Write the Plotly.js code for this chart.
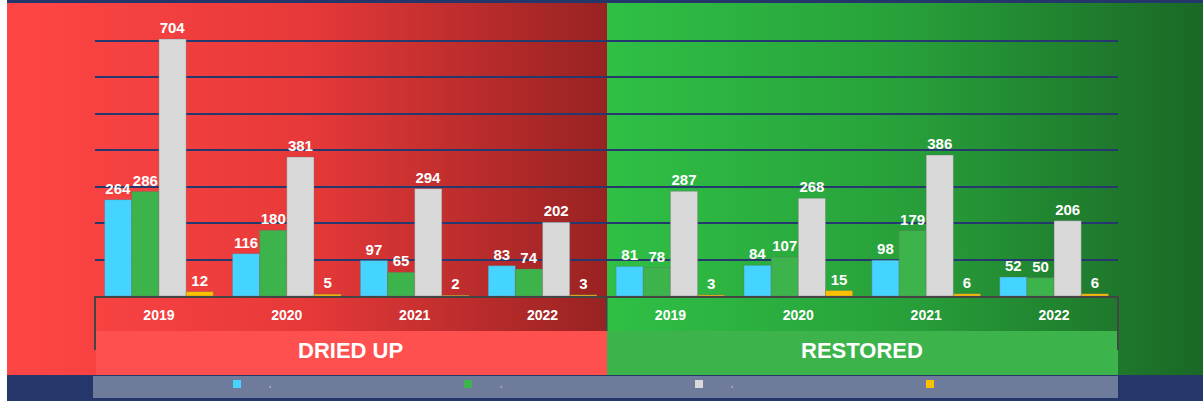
<!DOCTYPE html>
<html>
<head>
<meta charset="utf-8">
<script src="https://cdn.plot.ly/plotly-3.0.1.min.js"></script>
<style>
  html, body { margin: 0; padding: 0; background: #ffffff; }
  #chart { width: 1203px; height: 401px; }
</style>
</head>
<body>
<div id="chart"></div>
<script>
// ---- data ----
const groups = ["DRIED UP", "RESTORED"];
const years = ["2019", "2020", "2021", "2022"];
const seriesNames = ["\u2003\u2002,", "\u2003\u2002,", "\u2003\u2002,", ""];
const seriesColors = ["#44d4ff", "#3cb44b", "#d9d9d9", "#ffc000"];
const cyanValues   = [264, 116, 97, 83, 81, 84, 98, 52];
const greenValues  = [286, 180, 65, 74, 78, 107, 179, 50];
const grayValues   = [704, 381, 294, 202, 287, 268, 386, 206];
const yellowValues = [12, 5, 2, 3, 3, 15, 6, 6];

// ---- category keys (group + year), tick text = year ----
const xKeys = [], xTicks = [];
groups.forEach(g => years.forEach(y => { xKeys.push(g + " " + y); xTicks.push(y); }));
const allSeries = [cyanValues, greenValues, grayValues, yellowValues];

const FONT = "Arial, 'Liberation Sans', sans-serif";
const traces = [];
allSeries.forEach((vals, i) => {
  traces.push({
    type: "bar",
    x: xKeys,
    y: vals,
    name: seriesNames[i],
    showlegend: false,
    marker: { color: seriesColors[i], line: { width: 1, color: "rgba(110,110,110,0.35)" } },
    text: vals.map(String),
    textposition: "outside",
    constraintext: "none",
    cliponaxis: false,
    textfont: { family: FONT, size: 15, color: "#ffffff", weight: "bold" },
    hoverinfo: "skip"
  });
});
// legend proxies (small square markers, no drawn point)
seriesColors.forEach((c, i) => {
  traces.push({
    type: "scatter", mode: "markers",
    x: [xKeys[0]], y: [null],
    name: seriesNames[i],
    marker: { symbol: "square", size: 8, color: c },
    showlegend: true, hoverinfo: "skip"
  });
});

// ---- pixel -> paper helpers (plot area: x 95..1118, y 4..296) ----
const W = 1203, H = 401;
const L = 95, R = 1118, T = 4, B = 296;
const px = v => (v - L) / (R - L);
const py = v => (B - v) / (B - T);

function gradImg(stops) {
  const s = stops.map(([o, c]) => `<stop offset="${o}" stop-color="${c}"/>`).join("");
  const svg = `<svg xmlns="http://www.w3.org/2000/svg" width="100" height="100" viewBox="0 0 100 100" preserveAspectRatio="none"><defs><linearGradient id="g" x1="0" x2="1" y1="0" y2="0">${s}</linearGradient></defs><rect width="100" height="100" fill="url(#g)"/></svg>`;
  return "data:image/svg+xml;charset=utf-8," + encodeURIComponent(svg);
}

const lineStyle = { color: "#444444", width: 2 };

const layout = {
  width: W, height: H,
  margin: { l: L, r: W - R, t: T, b: H - B },
  paper_bgcolor: "#25366a",
  plot_bgcolor: "rgba(0,0,0,0)",
  font: { family: FONT, color: "#ffffff" },
  barmode: "group",
  bargap: 0.15,
  bargroupgap: 0,
  showlegend: true,
  legend: {
    orientation: "h",
    xref: "paper", x: px(217), xanchor: "left",
    yref: "container", y: (H - 384) / H, yanchor: "middle",
    bgcolor: "rgba(0,0,0,0)",
    font: { family: FONT, size: 8, color: "#ffffff" },
    entrywidth: 186, entrywidthmode: "pixels",
    itemclick: false, itemdoubleclick: false
  },
  xaxis: {
    type: "category",
    categoryorder: "array", categoryarray: xKeys,
    tickmode: "array", tickvals: xKeys, ticktext: xTicks,
    showline: true, linecolor: "#444444", linewidth: 2,
    ticks: "", ticklabelstandoff: 5,
    tickfont: { family: FONT, size: 14, color: "#ffffff", weight: "bold" },
    showgrid: false, zeroline: false, fixedrange: true
  },
  yaxis: {
    range: [0, 800], dtick: 100,
    showticklabels: false,
    gridcolor: "#26396f", gridwidth: 2,
    zeroline: false, showline: false, fixedrange: true
  },
  images: [
    { source: gradImg([[0, "#ff4646"], [0.5, "#e73939"], [1, "#982222"]]),
      xref: "paper", yref: "paper", x: px(5), y: py(3), sizex: 602 / (R - L), sizey: 372 / (B - T),
      xanchor: "left", yanchor: "top", sizing: "stretch", layer: "below" },
    { source: gradImg([[0, "#2fc045"], [0.5, "#28a03a"], [1, "#1a6826"]]),
      xref: "paper", yref: "paper", x: px(607), y: py(3), sizex: 596 / (R - L), sizey: 372 / (B - T),
      xanchor: "left", yanchor: "top", sizing: "stretch", layer: "below" }
  ],
  shapes: [
    // white strip at far left
    { type: "rect", xref: "paper", yref: "paper", x0: px(0), x1: px(7), y0: py(0), y1: py(401),
      fillcolor: "#ffffff", line: { width: 0 }, layer: "below" },
    // legend background
    { type: "rect", xref: "paper", yref: "paper", x0: px(93), x1: px(1118), y0: py(376), y1: py(398),
      fillcolor: "#6e7b9b", line: { width: 0 }, layer: "below" },
    // group bands
    { type: "rect", xref: "paper", yref: "paper", x0: px(96), x1: px(607), y0: py(331), y1: py(375),
      fillcolor: "#ff5050", line: { width: 0 }, layer: "above" },
    { type: "rect", xref: "paper", yref: "paper", x0: px(607), x1: px(1118), y0: py(331), y1: py(375),
      fillcolor: "#3cb44b", line: { width: 0 }, layer: "above" },
    // group dividers
    { type: "line", xref: "paper", yref: "paper", x0: 0, x1: 0, y0: 0, y1: py(350), line: lineStyle, layer: "above" },
    { type: "line", xref: "paper", yref: "paper", x0: 1, x1: 1, y0: 0, y1: py(350), line: lineStyle, layer: "above" },
    { type: "line", xref: "paper", yref: "paper", x0: 0.5, x1: 0.5, y0: 0, y1: py(331), line: lineStyle, layer: "above" }
  ],
  annotations: groups.map((g, i) => ({
    xref: "paper", yref: "paper",
    x: 0.25 + 0.5 * i, y: py(350),
    xanchor: "center", yanchor: "middle",
    text: "<b>" + g + "</b>", showarrow: false,
    font: { family: FONT, size: 22, color: "#ffffff" }
  }))
};

Plotly.newPlot("chart", traces, layout, { displayModeBar: false, staticPlot: true });
</script>
</body>
</html>
